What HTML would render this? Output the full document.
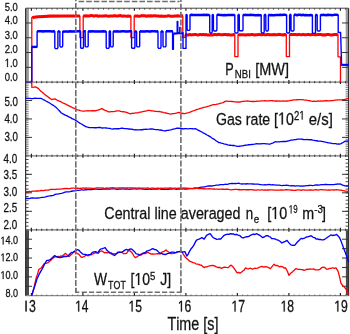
<!DOCTYPE html>
<html><head><meta charset="utf-8"><title>plot</title>
<style>
html,body{margin:0;padding:0;background:#fff;}
body{width:350px;height:334px;overflow:hidden;}
svg{display:block;}
text{font-family:"Liberation Sans",sans-serif;font-kerning:none;fill:#111;stroke:#111;stroke-width:0.28px;}
</style></head>
<body>
<svg width="350" height="334" viewBox="0 0 350 334">
<rect width="350" height="334" fill="#fff"/>
<rect x="26" y="8.2" width="2.9" height="73.9" fill="#9a9a9a"/>
<rect x="345.7" y="8.2" width="2.4" height="73.9" fill="#9a9a9a"/>
<path d="M25.6 155.8h3.0M348.6 155.8h-3.0M25.6 153.96h3.0M348.6 153.96h-3.0M25.6 152.12h3.0M348.6 152.12h-3.0M25.6 150.27h3.0M348.6 150.27h-3.0M25.6 148.43h3.0M348.6 148.43h-3.0M25.6 146.59h3.0M348.6 146.59h-3.0M25.6 144.75h3.0M348.6 144.75h-3.0M25.6 142.9h3.0M348.6 142.9h-3.0M25.6 141.06h3.0M348.6 141.06h-3.0M25.6 139.22h3.0M348.6 139.22h-3.0M25.6 137.38h3.0M348.6 137.38h-3.0M25.6 135.53h3.0M348.6 135.53h-3.0M25.6 133.69h3.0M348.6 133.69h-3.0M25.6 131.85h3.0M348.6 131.85h-3.0M25.6 130h3.0M348.6 130h-3.0M25.6 128.16h3.0M348.6 128.16h-3.0M25.6 126.32h3.0M348.6 126.32h-3.0M25.6 124.48h3.0M348.6 124.48h-3.0M25.6 122.64h3.0M348.6 122.64h-3.0M25.6 120.79h3.0M348.6 120.79h-3.0M25.6 118.95h3.0M348.6 118.95h-3.0M25.6 117.11h3.0M348.6 117.11h-3.0M25.6 115.27h3.0M348.6 115.27h-3.0M25.6 113.42h3.0M348.6 113.42h-3.0M25.6 111.58h3.0M348.6 111.58h-3.0M25.6 109.74h3.0M348.6 109.74h-3.0M25.6 107.9h3.0M348.6 107.9h-3.0M25.6 106.05h3.0M348.6 106.05h-3.0M25.6 104.21h3.0M348.6 104.21h-3.0M25.6 102.37h3.0M348.6 102.37h-3.0M25.6 100.53h3.0M348.6 100.53h-3.0M25.6 98.68h3.0M348.6 98.68h-3.0M25.6 96.84h3.0M348.6 96.84h-3.0M25.6 95h3.0M348.6 95h-3.0M25.6 93.15h3.0M348.6 93.15h-3.0M25.6 91.31h3.0M348.6 91.31h-3.0M25.6 89.47h3.0M348.6 89.47h-3.0M25.6 87.63h3.0M348.6 87.63h-3.0M25.6 85.78h3.0M348.6 85.78h-3.0M25.6 83.94h3.0M348.6 83.94h-3.0M25.6 82.1h3.0M348.6 82.1h-3.0" stroke="#666" stroke-width="0.85" fill="none"/>
<path d="M25.6 229.8h3.0M348.6 229.8h-3.0M25.6 226.1h3.0M348.6 226.1h-3.0M25.6 222.4h3.0M348.6 222.4h-3.0M25.6 218.7h3.0M348.6 218.7h-3.0M25.6 215h3.0M348.6 215h-3.0M25.6 211.3h3.0M348.6 211.3h-3.0M25.6 207.6h3.0M348.6 207.6h-3.0M25.6 203.9h3.0M348.6 203.9h-3.0M25.6 200.2h3.0M348.6 200.2h-3.0M25.6 196.5h3.0M348.6 196.5h-3.0M25.6 192.8h3.0M348.6 192.8h-3.0M25.6 189.1h3.0M348.6 189.1h-3.0M25.6 185.4h3.0M348.6 185.4h-3.0M25.6 181.7h3.0M348.6 181.7h-3.0M25.6 178h3.0M348.6 178h-3.0M25.6 174.3h3.0M348.6 174.3h-3.0M25.6 170.6h3.0M348.6 170.6h-3.0M25.6 166.9h3.0M348.6 166.9h-3.0M25.6 163.2h3.0M348.6 163.2h-3.0M25.6 159.5h3.0M348.6 159.5h-3.0M25.6 155.8h3.0M348.6 155.8h-3.0" stroke="#444" stroke-width="1.0" fill="none"/>
<rect x="26" y="229.8" width="3" height="65.9" fill="#4a4a4a"/>
<rect x="345.9" y="229.8" width="2.7" height="65.9" fill="#4a4a4a"/>
<path d="M25.6 67.32H32M348.6 67.32H342M25.6 52.54H32M348.6 52.54H342M25.6 37.76H32M348.6 37.76H342M25.6 22.98H32M348.6 22.98H342M25.6 137.38H32M348.6 137.38H342M25.6 118.95H32M348.6 118.95H342M25.6 100.53H32M348.6 100.53H342M25.6 211.3H32M348.6 211.3H342M25.6 192.8H32M348.6 192.8H342M25.6 174.3H32M348.6 174.3H342M25.6 286.29H32M348.6 286.29H342M25.6 276.87H32M348.6 276.87H342M25.6 267.46H32M348.6 267.46H342M25.6 258.04H32M348.6 258.04H342M25.6 248.63H32M348.6 248.63H342M25.6 239.21H32M348.6 239.21H342" stroke="#333" stroke-width="1" fill="none"/>
<line x1="25.6" y1="8.2" x2="348.6" y2="8.2" stroke="#444" stroke-width="1.0"/>
<path d="M36.55 8.2v1.5M41.7 8.2v1.5M46.85 8.2v1.5M52 8.2v1.5M57.15 8.2v1.5M62.3 8.2v1.5M67.45 8.2v1.5M72.6 8.2v1.5M77.75 8.2v1.5M88.05 8.2v1.5M93.2 8.2v1.5M98.35 8.2v1.5M103.5 8.2v1.5M108.65 8.2v1.5M113.8 8.2v1.5M118.95 8.2v1.5M124.1 8.2v1.5M129.25 8.2v1.5M139.55 8.2v1.5M144.7 8.2v1.5M149.85 8.2v1.5M155 8.2v1.5M160.15 8.2v1.5M165.3 8.2v1.5M170.45 8.2v1.5M175.6 8.2v1.5M180.75 8.2v1.5M191.05 8.2v1.5M196.2 8.2v1.5M201.35 8.2v1.5M206.5 8.2v1.5M211.65 8.2v1.5M216.8 8.2v1.5M221.95 8.2v1.5M227.1 8.2v1.5M232.25 8.2v1.5M242.55 8.2v1.5M247.7 8.2v1.5M252.85 8.2v1.5M258 8.2v1.5M263.15 8.2v1.5M268.3 8.2v1.5M273.45 8.2v1.5M278.6 8.2v1.5M283.75 8.2v1.5M294.05 8.2v1.5M299.2 8.2v1.5M304.35 8.2v1.5M309.5 8.2v1.5M314.65 8.2v1.5M319.8 8.2v1.5M324.95 8.2v1.5M330.1 8.2v1.5M335.25 8.2v1.5M345.55 8.2v1.5" stroke="#333" stroke-width="1" fill="none" opacity="0.85"/>
<path d="M31.4 8.2v2.6M82.9 8.2v2.6M134.4 8.2v2.6M185.9 8.2v2.6M237.4 8.2v2.6M288.9 8.2v2.6M340.4 8.2v2.6" stroke="#222" stroke-width="1.2" fill="none"/>
<line x1="25.6" y1="82.1" x2="348.6" y2="82.1" stroke="#777" stroke-width="1.3"/>
<path d="M36.55 80.9v2.4M41.7 80.9v2.4M46.85 80.9v2.4M52 80.9v2.4M57.15 80.9v2.4M62.3 80.9v2.4M67.45 80.9v2.4M72.6 80.9v2.4M77.75 80.9v2.4M88.05 80.9v2.4M93.2 80.9v2.4M98.35 80.9v2.4M103.5 80.9v2.4M108.65 80.9v2.4M113.8 80.9v2.4M118.95 80.9v2.4M124.1 80.9v2.4M129.25 80.9v2.4M139.55 80.9v2.4M144.7 80.9v2.4M149.85 80.9v2.4M155 80.9v2.4M160.15 80.9v2.4M165.3 80.9v2.4M170.45 80.9v2.4M175.6 80.9v2.4M180.75 80.9v2.4M191.05 80.9v2.4M196.2 80.9v2.4M201.35 80.9v2.4M206.5 80.9v2.4M211.65 80.9v2.4M216.8 80.9v2.4M221.95 80.9v2.4M227.1 80.9v2.4M232.25 80.9v2.4M242.55 80.9v2.4M247.7 80.9v2.4M252.85 80.9v2.4M258 80.9v2.4M263.15 80.9v2.4M268.3 80.9v2.4M273.45 80.9v2.4M278.6 80.9v2.4M283.75 80.9v2.4M294.05 80.9v2.4M299.2 80.9v2.4M304.35 80.9v2.4M309.5 80.9v2.4M314.65 80.9v2.4M319.8 80.9v2.4M324.95 80.9v2.4M330.1 80.9v2.4M335.25 80.9v2.4M345.55 80.9v2.4" stroke="#333" stroke-width="1" fill="none" opacity="0.85"/>
<path d="M31.4 80.1v4.0M82.9 80.1v4.0M134.4 80.1v4.0M185.9 80.1v4.0M237.4 80.1v4.0M288.9 80.1v4.0M340.4 80.1v4.0" stroke="#222" stroke-width="1.2" fill="none"/>
<line x1="25.6" y1="155.8" x2="348.6" y2="155.8" stroke="#777" stroke-width="1.3"/>
<path d="M36.55 154.6v2.4M41.7 154.6v2.4M46.85 154.6v2.4M52 154.6v2.4M57.15 154.6v2.4M62.3 154.6v2.4M67.45 154.6v2.4M72.6 154.6v2.4M77.75 154.6v2.4M88.05 154.6v2.4M93.2 154.6v2.4M98.35 154.6v2.4M103.5 154.6v2.4M108.65 154.6v2.4M113.8 154.6v2.4M118.95 154.6v2.4M124.1 154.6v2.4M129.25 154.6v2.4M139.55 154.6v2.4M144.7 154.6v2.4M149.85 154.6v2.4M155 154.6v2.4M160.15 154.6v2.4M165.3 154.6v2.4M170.45 154.6v2.4M175.6 154.6v2.4M180.75 154.6v2.4M191.05 154.6v2.4M196.2 154.6v2.4M201.35 154.6v2.4M206.5 154.6v2.4M211.65 154.6v2.4M216.8 154.6v2.4M221.95 154.6v2.4M227.1 154.6v2.4M232.25 154.6v2.4M242.55 154.6v2.4M247.7 154.6v2.4M252.85 154.6v2.4M258 154.6v2.4M263.15 154.6v2.4M268.3 154.6v2.4M273.45 154.6v2.4M278.6 154.6v2.4M283.75 154.6v2.4M294.05 154.6v2.4M299.2 154.6v2.4M304.35 154.6v2.4M309.5 154.6v2.4M314.65 154.6v2.4M319.8 154.6v2.4M324.95 154.6v2.4M330.1 154.6v2.4M335.25 154.6v2.4M345.55 154.6v2.4" stroke="#333" stroke-width="1" fill="none" opacity="0.85"/>
<path d="M31.4 153.8v4.0M82.9 153.8v4.0M134.4 153.8v4.0M185.9 153.8v4.0M237.4 153.8v4.0M288.9 153.8v4.0M340.4 153.8v4.0" stroke="#222" stroke-width="1.2" fill="none"/>
<line x1="25.6" y1="229.8" x2="348.6" y2="229.8" stroke="#777" stroke-width="1.3"/>
<path d="M36.55 228.6v2.4M41.7 228.6v2.4M46.85 228.6v2.4M52 228.6v2.4M57.15 228.6v2.4M62.3 228.6v2.4M67.45 228.6v2.4M72.6 228.6v2.4M77.75 228.6v2.4M88.05 228.6v2.4M93.2 228.6v2.4M98.35 228.6v2.4M103.5 228.6v2.4M108.65 228.6v2.4M113.8 228.6v2.4M118.95 228.6v2.4M124.1 228.6v2.4M129.25 228.6v2.4M139.55 228.6v2.4M144.7 228.6v2.4M149.85 228.6v2.4M155 228.6v2.4M160.15 228.6v2.4M165.3 228.6v2.4M170.45 228.6v2.4M175.6 228.6v2.4M180.75 228.6v2.4M191.05 228.6v2.4M196.2 228.6v2.4M201.35 228.6v2.4M206.5 228.6v2.4M211.65 228.6v2.4M216.8 228.6v2.4M221.95 228.6v2.4M227.1 228.6v2.4M232.25 228.6v2.4M242.55 228.6v2.4M247.7 228.6v2.4M252.85 228.6v2.4M258 228.6v2.4M263.15 228.6v2.4M268.3 228.6v2.4M273.45 228.6v2.4M278.6 228.6v2.4M283.75 228.6v2.4M294.05 228.6v2.4M299.2 228.6v2.4M304.35 228.6v2.4M309.5 228.6v2.4M314.65 228.6v2.4M319.8 228.6v2.4M324.95 228.6v2.4M330.1 228.6v2.4M335.25 228.6v2.4M345.55 228.6v2.4" stroke="#333" stroke-width="1" fill="none" opacity="0.85"/>
<path d="M31.4 227.8v4.0M82.9 227.8v4.0M134.4 227.8v4.0M185.9 227.8v4.0M237.4 227.8v4.0M288.9 227.8v4.0M340.4 227.8v4.0" stroke="#222" stroke-width="1.2" fill="none"/>
<line x1="25.6" y1="295.7" x2="348.6" y2="295.7" stroke="#8a8a8a" stroke-width="1.3"/>
<path d="M36.55 295.7v-1.3M41.7 295.7v-1.3M46.85 295.7v-1.3M52 295.7v-1.3M57.15 295.7v-1.3M62.3 295.7v-1.3M67.45 295.7v-1.3M72.6 295.7v-1.3M77.75 295.7v-1.3M88.05 295.7v-1.3M93.2 295.7v-1.3M98.35 295.7v-1.3M103.5 295.7v-1.3M108.65 295.7v-1.3M113.8 295.7v-1.3M118.95 295.7v-1.3M124.1 295.7v-1.3M129.25 295.7v-1.3M139.55 295.7v-1.3M144.7 295.7v-1.3M149.85 295.7v-1.3M155 295.7v-1.3M160.15 295.7v-1.3M165.3 295.7v-1.3M170.45 295.7v-1.3M175.6 295.7v-1.3M180.75 295.7v-1.3M191.05 295.7v-1.3M196.2 295.7v-1.3M201.35 295.7v-1.3M206.5 295.7v-1.3M211.65 295.7v-1.3M216.8 295.7v-1.3M221.95 295.7v-1.3M227.1 295.7v-1.3M232.25 295.7v-1.3M242.55 295.7v-1.3M247.7 295.7v-1.3M252.85 295.7v-1.3M258 295.7v-1.3M263.15 295.7v-1.3M268.3 295.7v-1.3M273.45 295.7v-1.3M278.6 295.7v-1.3M283.75 295.7v-1.3M294.05 295.7v-1.3M299.2 295.7v-1.3M304.35 295.7v-1.3M309.5 295.7v-1.3M314.65 295.7v-1.3M319.8 295.7v-1.3M324.95 295.7v-1.3M330.1 295.7v-1.3M335.25 295.7v-1.3M345.55 295.7v-1.3" stroke="#333" stroke-width="1" fill="none" opacity="0.5"/>
<path d="M31.4 295.7v-2.6M82.9 295.7v-2.6M134.4 295.7v-2.6M185.9 295.7v-2.6M237.4 295.7v-2.6M288.9 295.7v-2.6M340.4 295.7v-2.6" stroke="#222" stroke-width="1.2" fill="none"/>
<line x1="25.6" y1="8.2" x2="25.6" y2="295.7" stroke="#333" stroke-width="1.2"/>
<line x1="348.6" y1="8.2" x2="348.6" y2="295.7" stroke="#333" stroke-width="1.2"/>
<polyline points="31.8,82.1 31.8,17.5 32.6,17.4 79.9,15.9 79.9,37.6 83.2,37.6 83.2,15.9 130.9,15.9 130.9,37.6 134.2,37.6 134.2,15.9 182.8,16.2 182.8,37.4 185.2,37.4 185.2,34.7 234.8,34.7 234.8,56.6 238,56.6 238,34.7 286.3,34.7 286.3,56.6 289.5,56.6 289.5,34.7 338,34.7 338,56.8 340.5,56.8 340.5,82.1" fill="none" stroke="#ff0000" stroke-width="1.3" stroke-linejoin="round" />
<polyline points="32.4,17.8 34,17.3 38,16.8 44,16.4 50,16.1 58,15.9 70,15.9 79.9,15.9" fill="none" stroke="#ff0000" stroke-width="3.0" stroke-linejoin="round" />
<polyline points="83.2,15.72 84.7,15.93 86.2,15.81 87.7,15.97 89.2,15.99 90.7,15.6 92.2,15.56 93.7,16.14 95.2,15.73 96.7,15.71 98.2,16.25 99.7,15.88 101.2,16.14 102.7,15.88 104.2,16 105.7,15.66 107.2,15.99 108.7,16.16 110.2,15.92 111.7,16.07 113.2,16.02 114.7,15.59 116.2,16.08 117.7,15.96 119.2,15.76 120.7,15.57 122.2,16.16 123.7,15.88 125.2,16.05 126.7,16.17 128.2,16.05 129.7,16.19 130.9,15.9" fill="none" stroke="#ff0000" stroke-width="3.0" stroke-linejoin="round" />
<polyline points="134.2,15.83 135.7,16.11 137.2,15.86 138.7,16.2 140.2,16.17 141.7,15.62 143.2,15.65 144.7,15.7 146.2,16.23 147.7,15.86 149.2,15.99 150.7,15.76 152.2,15.91 153.7,15.82 155.2,15.8 156.7,15.96 158.2,15.96 159.7,16.18 161.2,16.03 162.7,16.2 164.2,16.15 165.7,16.24 167.2,16.02 168.7,15.66 170.2,16.15 171.7,16.23 173.2,16.18 174.7,15.95 176.2,16.05 177.7,15.7 179.2,16.13 180.7,15.95 182.2,15.75 182.8,15.9" fill="none" stroke="#ff0000" stroke-width="3.0" stroke-linejoin="round" />
<polyline points="185.2,34.39 186.7,34.95 188.2,35.04 189.7,34.41 191.2,34.91 192.7,34.64 194.2,34.46 195.7,34.56 197.2,34.89 198.7,34.96 200.2,34.38 201.7,34.78 203.2,34.38 204.7,34.85 206.2,34.58 207.7,34.97 209.2,35.04 210.7,34.7 212.2,35.05 213.7,34.57 215.2,34.4 216.7,34.77 218.2,34.37 219.7,34.49 221.2,34.64 222.7,34.78 224.2,34.46 225.7,34.38 227.2,34.96 228.7,34.57 230.2,35.02 231.7,34.98 233.2,34.61 234.7,34.67 234.8,34.7" fill="none" stroke="#ff0000" stroke-width="3.0" stroke-linejoin="round" />
<polyline points="238,34.71 239.5,34.8 241,34.77 242.5,34.74 244,34.78 245.5,35.01 247,34.7 248.5,34.65 250,34.85 251.5,34.52 253,34.56 254.5,35.03 256,34.71 257.5,34.73 259,34.36 260.5,34.64 262,34.76 263.5,34.36 265,34.78 266.5,34.79 268,34.39 269.5,34.79 271,34.68 272.5,34.83 274,34.6 275.5,34.84 277,34.87 278.5,34.37 280,34.39 281.5,34.82 283,35.02 284.5,34.53 286,34.67 286.3,34.7" fill="none" stroke="#ff0000" stroke-width="3.0" stroke-linejoin="round" />
<polyline points="289.5,34.76 291,34.57 292.5,34.6 294,34.57 295.5,34.61 297,34.77 298.5,34.56 300,34.61 301.5,34.89 303,34.37 304.5,34.75 306,34.86 307.5,34.57 309,34.51 310.5,34.91 312,34.52 313.5,34.48 315,34.65 316.5,34.84 318,34.42 319.5,34.58 321,34.58 322.5,34.93 324,34.66 325.5,34.95 327,34.47 328.5,34.59 330,34.81 331.5,34.97 333,34.67 334.5,34.51 336,34.43 337.5,34.72 338,34.7" fill="none" stroke="#ff0000" stroke-width="3.0" stroke-linejoin="round" />
<polyline points="31.8,82.1 31.8,46.9 37.1,46.9 37.1,31.4 54.8,31.4 54.8,47.6 55.4,48.6 57.3,48.6 57.9,47.6 57.9,31.4 59.9,31.4 59.9,46 60.5,47 62.1,47 62.7,46 62.7,31.4 80.6,31.4 80.6,47.3 81.2,48.3 82.9,48.3 83.5,47.3 83.5,31.4 85.2,31.4 85.2,45.9 85.8,46.9 87.6,46.9 88.2,45.9 88.2,31.4 106.2,31.4 106.2,47.4 106.8,48.4 108.6,48.4 109.2,47.4 109.2,31.4 110.5,31.4 110.5,45.9 111.1,46.9 112.6,46.9 113.2,45.9 113.2,31.4 131.6,31.4 131.6,47.3 132.2,48.3 134.3,48.3 134.9,47.3 134.9,31.4 136.6,31.4 136.6,45.9 137.2,46.9 139.1,46.9 139.7,45.9 139.7,31.4 158,31.4 158,47.4 158.6,48.4 160.4,48.4 161,47.4 161,31.4 163,31.4 163,45.9 163.6,46.9 165.4,46.9 166,45.9 166,31.4 172.6,31.4 172.6,49.2 173.4,49.2 173.4,34.2 176.8,33.2 177.2,33.2 177.2,21.5 177.8,21.5 177.8,33 179.8,32.6 179.8,27.5 180.4,27.5 180.4,32.6 183,32.6 183,48.4 186,48.4 186,15 187.1,15 187.1,29.4 187.7,30.4 189.4,30.4 190,29.4 190,15 209.7,15 209.7,32 210.3,33 211.6,33 212.2,32 212.2,15 213.4,15 213.4,30 214,31 216.3,31 216.9,30 216.9,15 234.8,15 234.8,32 235.4,33 237.4,33 238,32 238,15 239.3,15 239.3,29.8 239.9,30.8 242.4,30.8 243,29.8 243,15 261.2,15 261.2,32 261.8,33 263.6,33 264.2,32 264.2,15 265.8,15 265.8,30 266.4,31 267.8,31 268.4,30 268.4,15 286.6,15 286.6,32 287.2,33 289,33 289.6,32 289.6,15 291,15 291,30 291.6,31 293.4,31 294,30 294,15 312.4,15 312.4,32.4 313,33.4 314.9,33.4 315.5,32.4 315.5,15 317.2,15 317.2,30 317.8,31 319.8,31 320.4,30 320.4,15 338.2,15 338.2,32.5 340.6,32.5 341.6,64.8 348.6,64.8" fill="none" stroke="#0000ff" stroke-width="1.4" stroke-linejoin="round" />
<polyline points="173.4,33.21 174.9,33.58 176.4,33.6 177.9,33.21 179.4,33.27 180.9,33.58 182.4,33.49 183,33.4" fill="none" stroke="#0000ff" stroke-width="2.0" stroke-linejoin="round" />
<polyline points="37.1,31.55 38.6,31.32 40.1,31.21 41.6,31.3 43.1,31.55 44.6,31.29 46.1,31.32 47.6,31.36 49.1,31.36 50.6,31.35 52.1,31.61 53.6,31.23 54.8,31.4" fill="none" stroke="#0000ff" stroke-width="2.5" stroke-linejoin="round" />
<polyline points="57.9,31.15 59.4,31.62 59.9,31.4" fill="none" stroke="#0000ff" stroke-width="2.5" stroke-linejoin="round" />
<polyline points="62.7,31.59 64.2,31.64 65.7,31.37 67.2,31.63 68.7,31.61 70.2,31.26 71.7,31.52 73.2,31.57 74.7,31.48 76.2,31.41 77.7,31.29 79.2,31.32 80.6,31.4" fill="none" stroke="#0000ff" stroke-width="2.5" stroke-linejoin="round" />
<polyline points="83.5,31.26 85,31.18 85.2,31.4" fill="none" stroke="#0000ff" stroke-width="2.5" stroke-linejoin="round" />
<polyline points="88.2,31.44 89.7,31.29 91.2,31.56 92.7,31.17 94.2,31.6 95.7,31.5 97.2,31.61 98.7,31.6 100.2,31.6 101.7,31.44 103.2,31.16 104.7,31.52 106.2,31.4" fill="none" stroke="#0000ff" stroke-width="2.5" stroke-linejoin="round" />
<polyline points="109.2,31.24 110.5,31.4" fill="none" stroke="#0000ff" stroke-width="2.5" stroke-linejoin="round" />
<polyline points="113.2,31.3 114.7,31.48 116.2,31.41 117.7,31.36 119.2,31.62 120.7,31.46 122.2,31.32 123.7,31.28 125.2,31.58 126.7,31.39 128.2,31.54 129.7,31.33 131.2,31.25 131.6,31.4" fill="none" stroke="#0000ff" stroke-width="2.5" stroke-linejoin="round" />
<polyline points="134.9,31.42 136.4,31.56 136.6,31.4" fill="none" stroke="#0000ff" stroke-width="2.5" stroke-linejoin="round" />
<polyline points="139.7,31.24 141.2,31.55 142.7,31.61 144.2,31.55 145.7,31.56 147.2,31.15 148.7,31.46 150.2,31.58 151.7,31.17 153.2,31.29 154.7,31.28 156.2,31.41 157.7,31.36 158,31.4" fill="none" stroke="#0000ff" stroke-width="2.5" stroke-linejoin="round" />
<polyline points="161,31.39 162.5,31.54 163,31.4" fill="none" stroke="#0000ff" stroke-width="2.5" stroke-linejoin="round" />
<polyline points="166,31.15 167.5,31.18 169,31.21 170.5,31.21 172,31.18 172.6,31.4" fill="none" stroke="#0000ff" stroke-width="2.5" stroke-linejoin="round" />
<polyline points="186,15.24 187.1,15" fill="none" stroke="#0000ff" stroke-width="2.5" stroke-linejoin="round" />
<polyline points="190,15.18 191.5,14.79 193,15 194.5,14.91 196,14.91 197.5,14.93 199,15.07 200.5,15.04 202,14.93 203.5,14.85 205,14.91 206.5,14.81 208,15.03 209.5,15.11 209.7,15" fill="none" stroke="#0000ff" stroke-width="2.5" stroke-linejoin="round" />
<polyline points="212.2,14.94 213.4,15" fill="none" stroke="#0000ff" stroke-width="2.5" stroke-linejoin="round" />
<polyline points="216.9,14.79 218.4,14.84 219.9,14.94 221.4,15.05 222.9,15.14 224.4,14.94 225.9,15.15 227.4,15.06 228.9,14.97 230.4,14.94 231.9,15 233.4,15.1 234.8,15" fill="none" stroke="#0000ff" stroke-width="2.5" stroke-linejoin="round" />
<polyline points="238,14.96 239.3,15" fill="none" stroke="#0000ff" stroke-width="2.5" stroke-linejoin="round" />
<polyline points="243,15.1 244.5,14.98 246,14.87 247.5,15.02 249,15.1 250.5,14.79 252,14.96 253.5,14.96 255,15.19 256.5,15.22 258,14.94 259.5,15.2 261,15.15 261.2,15" fill="none" stroke="#0000ff" stroke-width="2.5" stroke-linejoin="round" />
<polyline points="264.2,14.88 265.7,14.98 265.8,15" fill="none" stroke="#0000ff" stroke-width="2.5" stroke-linejoin="round" />
<polyline points="268.4,14.81 269.9,15.16 271.4,15.08 272.9,15.19 274.4,15.15 275.9,15.08 277.4,15.12 278.9,15.03 280.4,14.8 281.9,15.04 283.4,14.75 284.9,14.82 286.4,15.14 286.6,15" fill="none" stroke="#0000ff" stroke-width="2.5" stroke-linejoin="round" />
<polyline points="289.6,14.77 291,15" fill="none" stroke="#0000ff" stroke-width="2.5" stroke-linejoin="round" />
<polyline points="294,14.8 295.5,14.8 297,15.19 298.5,14.84 300,14.76 301.5,15.17 303,14.81 304.5,15.17 306,15.09 307.5,15.17 309,15.23 310.5,15.04 312,15.15 312.4,15" fill="none" stroke="#0000ff" stroke-width="2.5" stroke-linejoin="round" />
<polyline points="315.5,14.77 317,15.13 317.2,15" fill="none" stroke="#0000ff" stroke-width="2.5" stroke-linejoin="round" />
<polyline points="320.4,15.01 321.9,15.11 323.4,14.8 324.9,15.12 326.4,15.22 327.9,14.78 329.4,14.91 330.9,15.03 332.4,15.16 333.9,14.87 335.4,14.84 336.9,14.87 338.2,15" fill="none" stroke="#0000ff" stroke-width="2.5" stroke-linejoin="round" />
<polyline points="31.8,46.9 37.1,46.9" fill="none" stroke="#0000ff" stroke-width="2.4" stroke-linejoin="round" />
<polyline points="25.6,82.1 31.8,82.1" fill="none" stroke="#22229a" stroke-width="1.3" stroke-linejoin="round" />
<polyline points="340.6,64.8 348.6,64.8" fill="none" stroke="#0000ff" stroke-width="2.0" stroke-linejoin="round" />
<polyline points="31.8,82.15 31.8,87.34 33.7,87.22 35.5,86.95 36.85,87.63 38.2,88.3 39.55,89.86 40.9,91.27 42.25,92.33 43.6,93.56 44.95,94.49 46.3,95.63 47.65,96.46 49,97.64 50.5,98.69 52,99.65 53.5,99.23 55,98.83 56.5,99.73 58,100.72 59.33,101.12 60.67,101.63 62,102.51 63.23,103.19 64.47,103.6 65.7,104.03 67.13,104.94 68.57,105.58 70,106.35 71.2,106.85 72.4,107.55 73.6,108.06 74.8,108.56 76,109.3 77.42,109.9 78.85,110.11 80.28,110.6 81.7,110.91 82.96,111.08 84.22,111.06 85.48,110.92 86.74,110.83 88,110.71 89.23,110.83 90.47,110.84 91.7,110.74 92.93,110.76 94.17,110.75 95.4,110.94 96.68,110.3 97.96,110.13 99.24,109.59 100.52,109.14 101.8,108.62 103.16,109.4 104.52,110.11 105.88,110.66 107.24,111.22 108.6,111.93 109.81,111.91 111.02,111.65 112.23,111.61 113.44,111.63 114.66,111.37 115.87,111.07 117.08,110.87 118.29,110.93 119.5,110.89 120.7,111.35 121.9,111.69 123.1,111.73 124.3,111.87 125.5,112.13 126.7,112.37 127.9,112.88 129.1,113.35 130.3,113.76 131.67,113.38 133.03,113.41 134.4,113.1 135.77,112.93 137.13,112.92 138.5,112.56 139.86,112.13 141.21,112.09 142.57,111.67 143.93,111.34 145.29,111.11 146.64,110.88 148,110.31 149.22,110.46 150.44,110.65 151.66,110.83 152.88,110.86 154.1,111.11 155.32,111.46 156.54,111.45 157.76,111.58 158.98,111.52 160.2,111.62 161.4,112.03 162.6,112.11 163.8,112.62 165,113 166.2,112.95 167.4,113.43 168.6,113.54 169.8,113.89 171,114.18 172.37,113.73 173.73,113.55 175.1,113.31 176.47,113.13 177.83,112.66 179.2,112.51 180.65,112.99 182.1,113.26 183.55,113.5 185,113.59 186.25,113.24 187.5,112.8 188.75,112.55 190,112.21 191.33,111.68 192.67,111 194,110.61 195.33,110.17 196.67,109.49 198,109.22 199.2,108.89 200.4,108.32 201.6,108.22 202.8,107.65 204,107.28 205.2,107.1 206.4,106.78 207.6,106.44 208.8,106.13 210,105.73 211.2,105.36 212.4,104.98 213.6,104.61 214.8,104.57 216,104.44 217.2,104.15 218.4,103.95 219.6,103.55 220.8,103.17 222,102.9 223.33,102.52 224.67,101.65 226,101.13 227.2,101.13 228.4,101.41 229.6,101.4 230.8,101.42 232,101.51 233.33,101.67 234.67,101.91 236,101.89 237.33,102.15 238.67,102 240,102.05 241.25,101.67 242.5,101.35 243.75,101.35 245,101.19 246.25,101.04 247.5,100.99 248.75,101.08 250,101.29 251.25,101.45 252.5,101.52 253.75,101.5 255,101.31 256.25,101.24 257.5,101.08 258.75,101.12 260,101.12 261.25,100.93 262.5,100.82 263.75,100.97 265,100.67 266.25,100.84 267.5,100.93 268.75,100.97 270,100.7 271.21,100.71 272.42,100.75 273.62,100.81 274.83,101.02 276.04,101.01 277.25,100.85 278.45,101.04 279.66,100.99 280.87,101.03 282.08,101.13 283.28,100.87 284.49,101.11 285.7,101.2 286.98,100.99 288.27,100.83 289.55,100.65 290.83,100.36 292.12,100.29 293.4,99.96 294.68,99.93 295.97,99.91 297.25,99.73 298.53,99.62 299.82,99.67 301.1,99.58 302.39,99.53 303.68,99.92 304.96,100.17 306.25,100.16 307.54,100.41 308.82,100.61 310.11,100.77 311.4,101.18 312.68,101.37 313.97,101.17 315.25,101.28 316.53,101.23 317.82,100.93 319.1,101.07 320.38,101 321.67,101.08 322.95,100.99 324.23,100.93 325.52,100.7 326.8,100.76 328.12,100.83 329.44,100.82 330.76,100.6 332.08,100.62 333.4,100.48 334.72,100.22 336.04,100.05 337.36,99.95 338.68,99.94 340,99.9 341.2,99.82 342.4,99.76 343.6,99.55 344.8,99.28 346.07,99.09 347.33,98.71 348.6,98.5" fill="none" stroke="#ff0000" stroke-width="1.3" stroke-linejoin="round" />
<polyline points="25.6,98.18 27.07,98.41 28.53,98.41 30,98.36 31.25,98.56 32.5,98.55 33.75,98.37 35,98.25 36.65,98.29 38.3,98.34 39.65,98.34 41,98.32 42.37,99 43.73,99.93 45.1,100.44 46.33,101.22 47.55,101.86 48.77,102.55 50,103.24 51.43,104.26 52.87,105.13 54.3,105.97 55.53,107.03 56.77,108.11 58,109.34 59.55,111.02 61.1,112.74 62.48,113.58 63.86,114.32 65.24,115.16 66.62,115.63 68,116.36 69.33,117.08 70.67,117.63 72,118.67 73.33,119.21 74.67,119.77 76,120.57 77.25,121.31 78.5,122.3 79.75,123.08 81,123.78 82.33,124.42 83.65,125.4 84.97,126.05 86.3,126.97 87.72,127.14 89.15,127.55 90.58,127.59 92,127.69 93.33,127.59 94.67,127.76 96,127.74 97.33,127.57 98.67,127.35 100,127.48 101.26,127.87 102.51,127.98 103.77,127.85 105.02,127.88 106.28,128.01 107.53,128.19 108.79,128.3 110.04,128.45 111.3,128.88 112.51,129.03 113.72,128.75 114.93,128.91 116.14,128.72 117.36,128.73 118.57,128.74 119.78,128.71 120.99,128.25 122.2,128.09 123.44,128.34 124.67,128.69 125.91,128.55 127.15,128.65 128.38,129.02 129.62,128.94 130.85,129.1 132.09,129.23 133.33,129.52 134.56,129.85 135.8,129.75 137.05,129.82 138.29,129.82 139.54,129.84 140.78,129.69 142.03,129.75 143.28,129.5 144.52,129.36 145.77,129.18 147.02,129.31 148.26,129.21 149.51,129.03 150.75,128.87 152,129 153.25,129.22 154.49,129.46 155.74,129.53 156.98,129.69 158.23,129.71 159.47,130.05 160.72,130 161.96,130.26 163.21,130.61 164.45,130.84 165.7,130.77 166.9,130.42 168.1,130.36 169.3,130.1 170.5,129.92 171.7,129.68 172.9,129.22 174.1,129.04 175.3,128.72 176.5,128.24 177.71,128.26 178.93,128.19 180.14,128.35 181.36,128.73 182.57,128.59 183.79,128.77 185,128.71 186.3,128.6 187.6,128.8 188.9,128.71 190.2,128.57 191.5,128.54 192.8,128.74 194.1,128.81 195.4,128.58 196.69,129.22 197.97,130.19 199.26,130.67 200.55,131.39 201.84,132.01 203.12,132.81 204.41,133.45 205.7,134.18 206.99,134.96 208.28,135.61 209.57,136.36 210.86,137.12 212.15,138.25 213.44,138.93 214.73,139.65 216.02,140.86 217.31,141.54 218.6,142.62 219.9,142.69 221.2,143.05 222.5,143.27 223.8,143.82 225.1,144.15 226.4,144.48 227.7,144.86 229,145.25 230.26,145.22 231.53,145.4 232.79,145.5 234.05,145.48 235.31,145.88 236.57,146.05 237.84,146.32 239.1,146.26 240.37,146.11 241.64,145.91 242.91,145.84 244.19,145.41 245.46,145.23 246.73,145.11 248,144.77 249.3,144.74 250.6,144.72 251.9,144.48 253.2,144.38 254.5,144.22 255.8,143.88 257.1,143.69 258.39,143.97 259.68,143.81 260.97,143.77 262.26,143.6 263.55,143.57 264.84,143.54 266.13,143.86 267.42,143.93 268.71,144.04 270,144.14 271.35,143.49 272.7,143.05 274.05,142.39 275.4,141.75 276.69,141.86 277.97,141.87 279.26,141.86 280.55,141.62 281.84,141.59 283.12,141.39 284.41,141.52 285.7,141.52 286.99,141.05 288.28,141.01 289.57,140.54 290.86,140.16 292.15,140.15 293.44,139.85 294.73,139.69 296.02,139.56 297.31,139.13 298.6,139.12 299.8,139.09 301,139.2 302.2,139.25 303.4,139.5 304.6,139.67 305.8,139.59 307,139.51 308.2,139.61 309.4,139.75 310.6,139.71 311.8,139.77 313,140.12 314.2,140.3 315.4,140.57 316.6,140.74 317.88,141 319.16,141.03 320.44,141.08 321.72,141.31 323,141.62 324.28,141.93 325.56,142.22 326.84,142.42 328.12,142.87 329.4,142.97 330.69,143.13 331.97,143.48 333.26,143.7 334.55,143.67 335.84,143.71 337.12,144.06 338.41,143.96 339.7,144.05 340.98,143.54 342.25,142.96 343.52,142.18 344.8,141.41 346.07,141.19 347.33,141.22 348.6,141" fill="none" stroke="#0000ff" stroke-width="1.3" stroke-linejoin="round" />
<polyline points="25.6,198.08 26.84,198.35 28.08,198.4 29.32,198.53 30.56,198.13 31.8,198.02 33.04,197.89 34.28,198.04 35.52,198.08 36.76,197.96 38,198.17 39.28,197.81 40.57,197.64 41.85,197.41 43.13,197.46 44.42,197.19 45.7,196.87 46.99,196.38 48.28,196.16 49.57,195.98 50.86,195.75 52.15,195.59 53.44,195.3 54.73,194.7 56.02,194.18 57.31,194.07 58.6,193.87 59.88,193.53 61.17,193.39 62.45,193.06 63.73,192.62 65.02,192.22 66.3,191.81 67.58,191.8 68.87,191.78 70.15,191.65 71.43,191.24 72.72,191 74,190.89 75.2,190.81 76.4,190.63 77.6,190.4 78.8,190.29 80,190.02 81.2,189.85 82.4,189.97 83.6,190.14 84.8,189.96 86,189.76 87.2,189.58 88.4,189.51 89.6,189.6 90.8,189.43 92,189.55 93.2,189.23 94.4,189.13 95.6,189.17 96.8,189.13 98,189.31 99.2,189.37 100.4,189.45 101.6,189.31 102.8,188.94 104,189.01 105.2,189.02 106.4,188.98 107.6,188.84 108.8,188.98 110,189.13 111.21,188.83 112.42,188.96 113.64,188.88 114.85,188.92 116.06,189.14 117.27,189.28 118.48,189.2 119.7,188.94 120.91,189.17 122.12,188.93 123.33,188.91 124.55,189.13 125.76,188.99 126.97,188.9 128.18,189.2 129.39,189.35 130.61,189.11 131.82,189.04 133.03,188.95 134.24,188.84 135.45,188.84 136.67,189.22 137.88,188.96 139.09,188.91 140.3,188.87 141.52,188.8 142.73,188.99 143.94,189.2 145.15,189.35 146.36,189.33 147.58,189.42 148.79,189.06 150,189.03 151.21,189.34 152.42,189.04 153.64,188.99 154.85,189.07 156.06,189 157.27,189.1 158.48,188.9 159.7,188.89 160.91,189.24 162.12,189.01 163.33,189.27 164.55,189.04 165.76,189.32 166.97,189.3 168.18,189.28 169.39,189.01 170.61,188.83 171.82,189.09 173.03,188.92 174.24,188.84 175.45,189.12 176.67,189.28 177.88,188.94 179.09,189.22 180.3,189.15 181.52,189.03 182.73,188.84 183.94,188.88 185.15,189.19 186.36,188.99 187.58,188.81 188.79,188.73 190,188.68 191.25,188.55 192.5,188.66 193.75,188.2 195,187.91 196.25,188.04 197.5,188.02 198.75,187.9 200,187.37 201.25,187.1 202.5,187.18 203.75,186.91 205,186.8 206.25,186.47 207.5,186.08 208.75,185.96 210,186.02 211.25,185.99 212.5,185.79 213.75,185.55 215,185.39 216.25,185.18 217.5,185.04 218.75,185.04 220,184.64 221.25,184.61 222.5,184.71 223.75,184.66 225,184.25 226.25,184.38 227.5,184.33 228.75,183.92 230,183.7 231.25,183.51 232.5,183.29 233.75,183.58 235,183.39 236.21,183.63 237.41,183.39 238.62,183.24 239.83,183.62 241.03,183.79 242.24,184 243.45,183.97 244.66,183.9 245.86,184.01 247.07,183.75 248.28,183.86 249.48,183.89 250.69,183.78 251.9,183.98 253.1,183.96 254.31,184.06 255.52,184.07 256.72,184.07 257.93,184.11 259.14,184.28 260.34,184.57 261.55,184.72 262.76,184.78 263.97,184.82 265.17,184.58 266.38,184.84 267.59,184.63 268.79,184.48 270,184.61 271.2,184.82 272.4,184.76 273.6,184.91 274.8,184.82 276,185.15 277.2,185.08 278.4,185.09 279.6,185.14 280.8,185.37 282,185.56 283.2,185.46 284.4,185.39 285.6,185.47 286.8,185.26 288,185.36 289.2,185.64 290.4,185.78 291.6,185.51 292.8,185.8 294,185.74 295.2,186.03 296.4,185.9 297.6,185.78 298.8,185.91 300,186.18 301.25,185.99 302.5,186.09 303.75,186.02 305,185.79 306.25,185.61 307.5,185.59 308.75,185.49 310,185.4 311.25,185.46 312.5,185.58 313.75,185.46 315,185.14 316.25,184.99 317.5,184.96 318.75,185.04 320,184.81 321.25,184.63 322.5,184.62 323.75,184.56 325,184.37 326.25,184.5 327.5,184.72 328.75,184.6 330,184.61 331.25,184.63 332.5,184.6 333.75,184.6 335,184.32 336.25,184.27 337.5,183.93 338.75,184.11 340,183.91 341.25,184.42 342.5,185.14 343.75,185.46 345,185.84 346.2,186.08 347.4,186.09 348.6,186" fill="none" stroke="#0000ff" stroke-width="1.3" stroke-linejoin="round" />
<polyline points="25.6,191.79 26.83,191.56 28.05,191.56 29.27,191.33 30.5,191.58 31.73,191.33 32.95,191.2 34.17,191.15 35.4,191.13 36.6,191.01 37.8,190.99 39,190.93 40.2,190.74 41.4,190.41 42.6,190.62 43.8,190.53 45,190.12 46.2,190.03 47.4,190.08 48.6,190.17 49.8,189.69 51,189.36 52.2,189.37 53.4,189.29 54.61,189.47 55.82,189.49 57.04,189.22 58.25,189.09 59.46,189.08 60.67,189.18 61.88,188.86 63.09,188.76 64.31,188.52 65.52,188.64 66.73,188.36 67.94,188.64 69.15,188.54 70.36,188.48 71.58,188.17 72.79,188.05 74,188.07 75.2,188.31 76.4,188.26 77.6,188.11 78.8,188.38 80,188.35 81.2,188.27 82.4,188.06 83.6,188 84.8,188.27 86,188.01 87.2,188.08 88.4,188.16 89.6,188.06 90.8,188.21 92,188.36 93.2,188.4 94.4,188.36 95.6,188.07 96.8,187.85 98,187.92 99.2,187.89 100.4,187.82 101.6,188.11 102.8,187.93 104,188.14 105.2,188.3 106.4,187.97 107.6,188.19 108.8,188.05 110,187.88 111.21,187.78 112.42,187.67 113.64,187.84 114.85,187.87 116.06,188.12 117.27,188.24 118.48,187.91 119.7,187.92 120.91,187.92 122.12,187.82 123.33,187.8 124.55,187.8 125.76,188.02 126.97,187.95 128.18,187.81 129.39,187.79 130.61,187.89 131.82,188.01 133.03,187.91 134.24,188.09 135.45,187.93 136.67,188.09 137.88,188.13 139.09,187.94 140.3,188.14 141.52,188.06 142.73,188.09 143.94,188.14 145.15,188.18 146.36,188.11 147.58,187.88 148.79,188.13 150,188.3 151.21,188.2 152.42,188.19 153.64,188.04 154.85,188.28 156.06,188.29 157.27,188.07 158.48,188.25 159.7,188.43 160.91,188.2 162.12,188.42 163.33,188.27 164.55,188.04 165.76,188.2 166.97,188.09 168.18,188.24 169.39,188.24 170.61,188 171.82,188.09 173.03,188.3 174.24,188.22 175.45,188.21 176.67,188.37 177.88,188.25 179.09,188.21 180.3,188.23 181.52,188.37 182.73,188.13 183.94,187.96 185.15,188.2 186.36,188.23 187.58,188.11 188.79,188.35 190,188.47 191.2,188.4 192.4,188.62 193.6,188.67 194.8,188.68 196,188.48 197.2,188.26 198.4,188.51 199.6,188.69 200.8,188.61 202,188.66 203.2,188.75 204.4,188.66 205.6,188.87 206.8,188.92 208,188.89 209.2,188.76 210.4,188.94 211.6,188.93 212.8,189.16 214,189.02 215.2,189.09 216.4,189.04 217.6,189.15 218.8,189.31 220,189.18 221.22,189.08 222.44,189.26 223.66,189.21 224.88,189.34 226.1,189.25 227.32,189.18 228.54,189.37 229.76,189.66 230.98,189.79 232.2,189.68 233.41,189.58 234.63,189.37 235.85,189.37 237.07,189.4 238.29,189.74 239.51,189.5 240.73,189.81 241.95,189.73 243.17,189.68 244.39,189.57 245.61,189.88 246.83,189.65 248.05,189.74 249.27,189.76 250.49,189.62 251.71,189.57 252.93,189.93 254.15,190.02 255.37,190.05 256.59,190.15 257.8,189.81 259.02,189.95 260.24,190.05 261.46,189.84 262.68,189.86 263.9,190.14 265.12,189.96 266.34,190.1 267.56,189.87 268.78,190.02 270,189.9 271.21,189.96 272.41,189.91 273.62,190.14 274.83,190.19 276.03,190.1 277.24,190.14 278.45,190.04 279.66,190.17 280.86,189.96 282.07,190 283.28,190.04 284.48,189.97 285.69,189.76 286.9,189.71 288.1,189.93 289.31,189.82 290.52,190.04 291.72,190.02 292.93,190.24 294.14,190.29 295.34,190.26 296.55,190.07 297.76,189.8 298.97,189.93 300.17,190.09 301.38,190.25 302.59,189.98 303.79,189.82 305,190.15 306.21,190.19 307.41,190.09 308.62,190.16 309.83,189.91 311.03,189.98 312.24,190.07 313.45,190.09 314.66,189.87 315.86,189.76 317.07,189.94 318.28,190.16 319.48,189.9 320.69,189.7 321.9,189.64 323.1,189.96 324.31,189.93 325.52,189.94 326.72,190.22 327.93,190.16 329.14,189.96 330.34,190.08 331.55,189.79 332.76,189.79 333.97,189.99 335.17,189.83 336.38,189.68 337.59,189.85 338.79,189.84 340,190.16 341.25,190.1 342.5,190.54 343.75,190.66 345,191.05 346.2,191.11 347.4,191.34 348.6,191.4" fill="none" stroke="#ff0000" stroke-width="1.3" stroke-linejoin="round" />
<polyline points="32,295.48 34.2,286.59 36,278.52 37.45,274.37 38.9,269.3 41.1,268.03 42.55,266.18 44,263.83 45.8,263.25 47.6,262.87 49.7,261.25 51.15,260.04 52.6,258.38 54.05,257.38 55.5,256.7 56.8,256.76 58.1,256.39 59.4,256.53 60.7,255.98 62,256.24 63.8,254.75 65.6,253.36 67.4,255.18 69.2,256.64 70.8,255.08 72.4,253.51 74,251.77 76,252.58 77.5,253.65 79,254.31 80.5,256.39 82,257.42 83.43,256.86 84.87,256.06 86.3,255.03 88,255.82 89.7,254.89 91.4,254.75 94,253.35 95.43,252.66 96.87,253.04 98.3,253.25 100,251.52 101.7,250.83 104.3,252.82 105.68,252.29 107.06,252.78 108.44,252.41 109.82,253.26 111.2,253.78 112.63,254.26 114.07,253.53 115.5,254.31 116.9,253.29 118.3,252.7 119.7,251.82 121,252.3 122.3,252.59 123.6,253.66 124.9,253.68 126.47,253.26 128.03,251.02 129.6,250.55 131,251.7 132.4,253.2 133.8,255.78 135.2,257.58 136.77,256.93 138.33,255.75 139.9,254.9 141.28,253.78 142.65,253.88 144.03,253.39 145.4,253.49 146.9,252.64 148.4,252.58 149.9,253.46 151.4,254.16 152.9,253.86 154.38,254.09 155.86,253.96 157.34,253.71 158.82,253.73 160.3,253.91 161.7,252.31 163.1,251.54 164.5,251.2 165.9,249.85 167.43,251.22 168.97,252.23 170.5,253.52 171.8,253.55 173.1,253.42 174.4,253.4 175.7,252.53 177,251.68 178.57,251.7 180.13,251.35 181.7,251.48 183.23,254.12 184.77,256.46 186.3,258.21 188.15,259.81 190,261.45 191.5,261.86 193,262.64 194.5,262.82 196,263.91 197.5,264.09 198.84,264.42 200.18,265.09 201.52,265.26 202.86,266.65 204.2,267.55 205.52,266.88 206.85,266.96 208.18,266.24 209.5,265.78 211,265.57 212.5,265.34 214,265.68 215.85,266.62 217.7,267.54 219.55,267.25 221.4,268.32 222.9,267.69 224.4,267.06 226.3,267.41 228.2,267.6 229.7,266.14 231.2,265.15 233.4,267.31 235.3,270 237.2,272.81 238.6,272.35 240,273.33 241.38,272.23 242.75,270.97 244.12,270.11 245.5,267.96 246.96,268.58 248.42,268.99 249.88,268.2 251.34,268.63 252.8,269.27 254.43,268.21 256.07,268.32 257.7,268.14 259.18,267.43 260.66,266.73 262.14,266.48 263.62,267.05 265.1,266.58 266.83,266.9 268.57,267.52 270.3,268.7 272.2,266.34 274.1,264.14 275.4,265.53 276.7,265.4 278,265.7 279.3,266.79 280.6,266.49 282.3,266.58 284,267.99 285.7,267.97 287.35,271.18 289,275.43 290.5,273.29 292,272.44 293.33,270.92 294.67,269.73 296,268.56 297.33,269.09 298.67,269.39 300,269.39 301.33,269.64 302.67,269.57 304,270.35 305.5,269.95 307,269.11 308.33,269.49 309.67,268.89 311,269.17 312.33,269.03 313.67,268.88 315,269.81 316.67,269.9 318.33,269.85 320,269.29 321.5,267.8 323,267.19 324.67,267.44 326.33,269.06 328,269.2 329.5,268.37 331,268.46 332.67,267.76 334.33,268.46 336,267.9 338,271.18 339.5,276.56 341,283.37 343,285.98 344.5,287.3 346,289.13 347.3,291.91 348.6,294.5" fill="none" stroke="#ff0000" stroke-width="1.3" stroke-linejoin="round" />
<polyline points="31.7,295.39 33.05,290.98 34.4,287.32 36.8,279.58 38.9,274.68 40.35,272.14 41.8,269.65 43.25,266.9 44.7,263.81 46.8,260.39 48.25,260.38 49.7,259.96 51.15,258.75 52.6,257.56 54.7,255.58 56.55,256.77 58.4,257.22 60,257.54 61.6,257.28 63.2,256.75 64.8,256.25 66.4,256.67 68,256.06 69.8,254.07 71.6,252.38 73.12,252.21 74.65,251.12 76.17,250.34 77.7,249.68 79,250.29 80.3,251.9 81.6,253.05 82.9,254.17 84.4,254.33 85.9,254.54 87.4,255.05 88.9,254.68 90.6,254.38 92.3,252.4 94,251.96 95.43,251.57 96.87,252.42 98.3,252.18 99.6,250.1 100.9,248.87 102.33,248.72 103.77,248.22 105.2,247.64 106.9,250.35 108.6,251.78 110.1,252.7 111.6,253.23 113.1,254.8 114.6,255.48 116.3,253.85 118,252.06 119.75,252.37 121.5,252.05 123.2,251.36 124.9,250.14 126.4,249.36 127.9,250.1 129.4,249.25 130.9,248.94 132.4,249.72 134.3,251.44 136.2,253.94 138.05,254.2 139.9,255.17 141.28,254.89 142.65,253.3 144.03,252.77 145.4,252.51 146.9,251.03 148.4,250.68 149.9,250.09 151.4,249.22 152.9,248.61 154.3,249.52 155.7,249.6 157.1,250.51 158.5,251.88 159.88,253.23 161.25,253.16 162.62,254.08 164,254.25 165.4,254.55 166.8,253.82 168.2,253.38 169.6,253.12 171.45,252.06 173.3,252.17 174.8,252.43 176.3,252.58 177.8,251.9 179.3,251.63 180.8,251.47 182.17,252.24 183.53,251.83 184.9,251.57 186.8,256.09 188.17,254.08 189.53,251.41 190.9,249.05 192.22,247.54 193.54,245.69 194.86,243.11 196.18,240.64 197.5,239.57 199,239.1 200.5,238.44 202,237.65 204.2,239.06 206.5,235.28 208.35,234.42 210.2,233.7 212.5,236.93 213.95,238.07 215.4,238.63 216.72,239.31 218.05,239.14 219.38,238.85 220.7,239.02 222.2,237.34 223.7,235.71 225.2,234.96 226.7,234.35 228,234.15 229.3,234.42 230.6,233.59 231.9,233.98 233.4,233.86 234.9,234.76 236.4,234.28 238.2,235.1 240,235.68 241.55,237.28 243.1,237.99 244.56,237.43 246.02,236.76 247.48,236.76 248.94,236.45 250.4,235.29 251.93,234.71 253.45,234.14 254.97,234.51 256.5,233.57 258,234.5 259.5,235.07 261,236.33 262.5,237.53 264.23,237.01 265.97,235.71 267.7,235.57 269,236.58 270.3,236.93 271.6,238.59 273.2,238.6 274.8,238.84 276.4,239.59 278,240.03 279.95,241.23 281.9,242.96 283.6,242.16 285.3,241.35 287,240.41 288.9,242.89 290.8,244.79 292.75,245.28 294.7,245.4 296.3,243.29 297.9,241.56 299.5,240.06 301.1,238.39 302.83,238.73 304.57,238.07 306.3,237.02 308.2,236.73 310.1,236.02 311.6,236 313.1,237.34 314.6,237.56 316.1,239.07 317.6,238.93 319.1,239.54 320.4,239.32 321.7,239.91 323,239.92 324.3,239.51 325.6,238.73 327.5,237.25 329.4,235.99 330.84,234.94 332.28,235.46 333.72,235.26 335.16,235.07 336.6,234.46 338.15,235.94 339.7,237.98 341.6,242.61 343.5,247.83 345.2,252.18 346.9,256.8 348.6,262" fill="none" stroke="#0000ff" stroke-width="1.35" stroke-linejoin="round" />
<path d="M75.8 0V292.2" fill="none" stroke="#6e6e6e" stroke-width="1.6" stroke-dasharray="6.2 1.714" stroke-dashoffset="5.014"/>
<path d="M180.9 0V292.2" fill="none" stroke="#6e6e6e" stroke-width="1.6" stroke-dasharray="6.0 1.84" stroke-dashoffset="4.040"/>
<path d="M78.6 1.5H179.6" fill="none" stroke="#6e6e6e" stroke-width="1.7" stroke-dasharray="5.6 2.0"/>
<path d="M81.7 292.2H176" fill="none" stroke="#6e6e6e" stroke-width="1.6" stroke-dasharray="5.2 2.1"/>
<path d="M75.8 288V292.2H79.3M176.7 292.2H180.9V286.5" fill="none" stroke="#6e6e6e" stroke-width="1.6"/>
<g style="opacity:0.995">
<text transform="translate(4.76,10.77) scale(0.800,1)" font-size="11.8">5.0</text>
<text transform="translate(4.76,24.42) scale(0.800,1)" font-size="11.8">4.0</text>
<text transform="translate(4.76,38.67) scale(0.800,1)" font-size="11.8">3.0</text>
<text transform="translate(4.76,52.67) scale(0.800,1)" font-size="11.8">2.0</text>
<g transform="translate(4.76,66.97) scale(0.800,1)"><text font-size="11.8"> .0</text><path transform="translate(0.000,0) scale(0.00576)" d="M515 0V-1237L197 -1010V-1180L530 -1409H696V0Z" fill="#111" stroke="#111" stroke-width="48.6"/></g>
<text transform="translate(4.76,80.97) scale(0.800,1)" font-size="11.8">0.0</text>
<text transform="translate(4.42,105.71) scale(0.800,1)" font-size="12.2">5.0</text>
<text transform="translate(4.42,123.21) scale(0.800,1)" font-size="12.2">4.0</text>
<text transform="translate(4.42,141.11) scale(0.800,1)" font-size="12.2">3.0</text>
<text transform="translate(3.52,163.24) scale(0.800,1)" font-size="12.3">4.0</text>
<text transform="translate(3.52,179.14) scale(0.800,1)" font-size="12.3">3.5</text>
<text transform="translate(3.52,196.04) scale(0.800,1)" font-size="12.3">3.0</text>
<text transform="translate(3.52,212.44) scale(0.800,1)" font-size="12.3">2.5</text>
<text transform="translate(3.52,228.74) scale(0.800,1)" font-size="12.3">2.0</text>
<g transform="translate(0.47,244.46) scale(0.810,1)"><text font-size="11.2"> 4.0</text><path transform="translate(0.000,0) scale(0.00547)" d="M515 0V-1237L197 -1010V-1180L530 -1409H696V0Z" fill="#111" stroke="#111" stroke-width="51.2"/></g>
<g transform="translate(0.47,261.31) scale(0.810,1)"><text font-size="11.2"> 2.0</text><path transform="translate(0.000,0) scale(0.00547)" d="M515 0V-1237L197 -1010V-1180L530 -1409H696V0Z" fill="#111" stroke="#111" stroke-width="51.2"/></g>
<g transform="translate(0.47,279.06) scale(0.810,1)"><text font-size="11.2"> 0.0</text><path transform="translate(0.000,0) scale(0.00547)" d="M515 0V-1237L197 -1010V-1180L530 -1409H696V0Z" fill="#111" stroke="#111" stroke-width="51.2"/></g>
<text transform="translate(5.55,297.16) scale(0.810,1)" font-size="11.2">8.0</text>
<g transform="translate(75.14,311.60) scale(0.769,1)"><text font-size="15.6"> 4</text><path transform="translate(0.000,0) scale(0.00762)" d="M515 0V-1237L197 -1010V-1180L530 -1409H696V0Z" fill="#111" stroke="#111" stroke-width="36.8"/></g>
<g transform="translate(128.53,311.60) scale(0.777,1)"><text font-size="15.6"> 5</text><path transform="translate(0.000,0) scale(0.00762)" d="M515 0V-1237L197 -1010V-1180L530 -1409H696V0Z" fill="#111" stroke="#111" stroke-width="36.8"/></g>
<g transform="translate(177.83,311.60) scale(0.777,1)"><text font-size="15.6"> 6</text><path transform="translate(0.000,0) scale(0.00762)" d="M515 0V-1237L197 -1010V-1180L530 -1409H696V0Z" fill="#111" stroke="#111" stroke-width="36.8"/></g>
<g transform="translate(231.42,311.60) scale(0.785,1)"><text font-size="15.6"> 7</text><path transform="translate(0.000,0) scale(0.00762)" d="M515 0V-1237L197 -1010V-1180L530 -1409H696V0Z" fill="#111" stroke="#111" stroke-width="36.8"/></g>
<g transform="translate(280.63,311.60) scale(0.777,1)"><text font-size="15.6"> 8</text><path transform="translate(0.000,0) scale(0.00762)" d="M515 0V-1237L197 -1010V-1180L530 -1409H696V0Z" fill="#111" stroke="#111" stroke-width="36.8"/></g>
<g transform="translate(334.22,311.60) scale(0.785,1)"><text font-size="15.6"> 9</text><path transform="translate(0.000,0) scale(0.00762)" d="M515 0V-1237L197 -1010V-1180L530 -1409H696V0Z" fill="#111" stroke="#111" stroke-width="36.8"/></g>
<text transform="translate(28.91,311.60) scale(0.791,1)" font-size="15.6">3</text>
<rect x="25.3" y="300.6" width="1.5" height="11" fill="#111"/>
<text transform="translate(167.41,329.60) scale(0.815,1)" font-size="17.6">Time [s]</text>
<text transform="translate(225.29,74.80) scale(0.727,1)" font-size="17.4">P</text>
<text transform="translate(234.83,78.00) scale(0.881,1)" font-size="10.9">NBI</text>
<text transform="translate(255.29,74.80) scale(0.832,1)" font-size="17.4">[MW]</text>
<g transform="translate(215.89,124.60) scale(0.814,1)"><text font-size="17.4">Gas rate [ 0</text><path transform="translate(76.397,0) scale(0.00850)" d="M515 0V-1237L197 -1010V-1180L530 -1409H696V0Z" fill="#111" stroke="#111" stroke-width="33.0"/></g>
<g transform="translate(294.02,119.60) scale(0.762,1)"><text font-size="12.6">2 </text><path transform="translate(7.008,0) scale(0.00615)" d="M515 0V-1237L197 -1010V-1180L530 -1409H696V0Z" fill="#111" stroke="#111" stroke-width="45.5"/></g>
<text transform="translate(308.80,124.60) scale(0.858,1)" font-size="17.4">e/s]</text>
<text transform="translate(104.28,218.90) scale(0.824,1)" font-size="17.4">Central line averaged</text>
<text transform="translate(245.87,218.90) scale(0.766,1)" font-size="17.4">n</text>
<text transform="translate(253.71,222.50) scale(0.950,1)" font-size="10.3">e</text>
<g transform="translate(267.19,218.90) scale(0.826,1)"><text font-size="17.4">[ 0</text><path transform="translate(4.834,0) scale(0.00850)" d="M515 0V-1237L197 -1010V-1180L530 -1409H696V0Z" fill="#111" stroke="#111" stroke-width="33.0"/></g>
<g transform="translate(288.76,213.40) scale(0.675,1)"><text font-size="11.8"> 9</text><path transform="translate(0.000,0) scale(0.00576)" d="M515 0V-1237L197 -1010V-1180L530 -1409H696V0Z" fill="#111" stroke="#111" stroke-width="48.6"/></g>
<text transform="translate(302.30,218.90) scale(0.821,1)" font-size="17.4">m</text>
<text transform="translate(314.22,213.20) scale(0.816,1)" font-size="11.8">-3</text>
<text transform="translate(322.10,218.90) scale(0.820,1)" font-size="17.4">]</text>
<text transform="translate(94.06,284.90) scale(0.806,1)" font-size="17.2">W</text>
<text transform="translate(108.12,288.90) scale(0.807,1)" font-size="11.0">TOT</text>
<g transform="translate(130.62,284.90) scale(0.813,1)"><text font-size="17.2">[ 0</text><path transform="translate(4.779,0) scale(0.00840)" d="M515 0V-1237L197 -1010V-1180L530 -1409H696V0Z" fill="#111" stroke="#111" stroke-width="33.3"/></g>
<text transform="translate(150.12,280.30) scale(0.887,1)" font-size="10.8">5</text>
<text transform="translate(160.32,284.90) scale(0.817,1)" font-size="17.2">J]</text>
</g>
</svg>
</body></html>
